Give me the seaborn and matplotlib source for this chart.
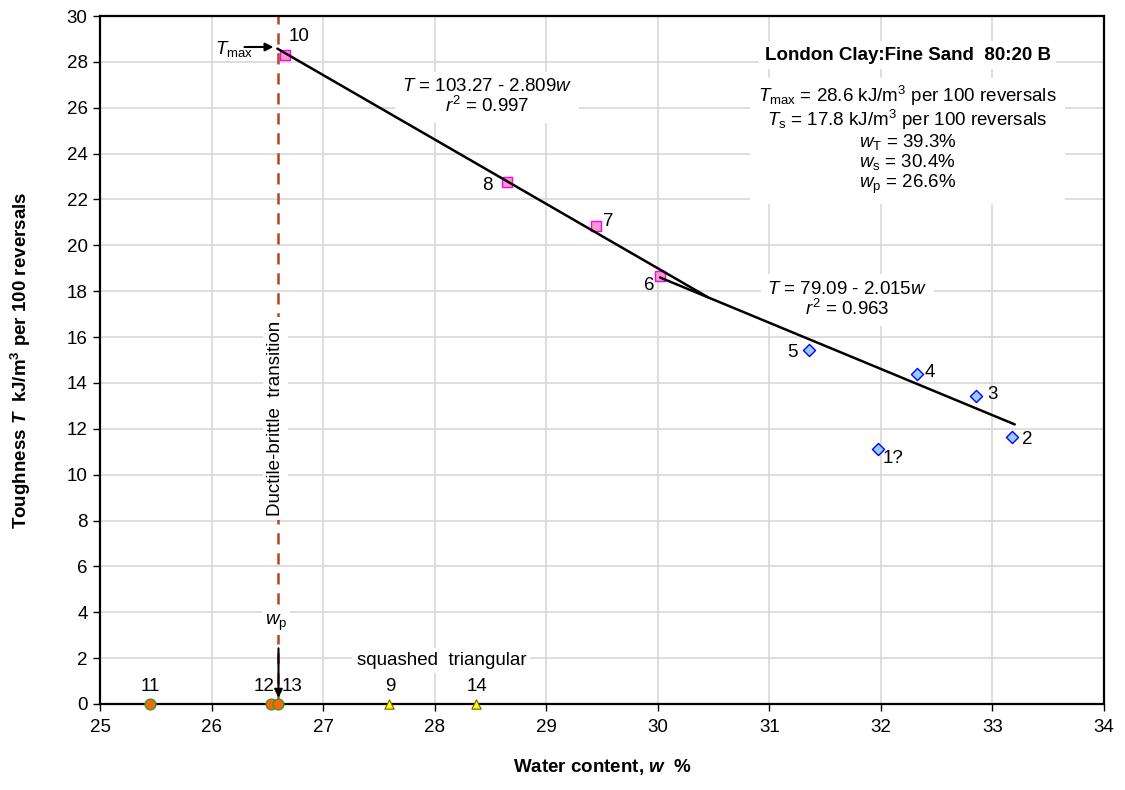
import matplotlib
matplotlib.use("Agg")
import matplotlib.pyplot as plt
import seaborn as sns
import pandas as pd
import numpy as np

# ---------------- data ----------------
sq_labels = ["10", "8", "7", "6"]
sq_w = [26.66, 28.65, 29.45, 30.02]
sq_T = [28.3, 22.76, 20.85, 18.67]

dia_labels = ["5", "4", "3", "2", "1?"]
dia_w = [31.36, 32.32, 32.85, 33.18, 31.97]
dia_T = [15.44, 14.39, 13.43, 11.64, 11.12]

circ_labels = ["11", "12", "13"]
circ_w = [25.45, 26.53, 26.60]
circ_T = [0.0, 0.0, 0.0]

tri_labels = ["9", "14"]
tri_w = [27.59, 28.37]
tri_T = [0.0, 0.0]

fit1_a, fit1_b = 103.27, -2.809
fit1_range = [26.59, 30.45]
fit2_a, fit2_b = 79.09, -2.015
fit2_range = [30.02, 33.2]

w_p = 26.6
T_max = 28.65

x_ticks = list(range(25, 35))
y_ticks = list(range(0, 31, 2))

FS = 13.5

# ---------------- style ----------------
sns.set_theme(style="white")
plt.rcParams["font.family"] = ["Liberation Sans", "DejaVu Sans"]
plt.rcParams["mathtext.fontset"] = "custom"
plt.rcParams["mathtext.rm"] = "Liberation Sans"
plt.rcParams["mathtext.it"] = "Liberation Sans:italic"
plt.rcParams["mathtext.bf"] = "Liberation Sans:bold"
try:
    plt.rcParams["mathtext.bfit"] = "Liberation Sans:italic:bold"
except KeyError:
    pass
for k in ["text.color", "axes.labelcolor", "xtick.color", "ytick.color",
          "xtick.labelcolor", "ytick.labelcolor"]:
    plt.rcParams[k] = "black"

fig = plt.figure(figsize=(11.25, 7.9), dpi=100)
ax = fig.add_axes([0.0889, 0.1089, 0.8924, 0.8708])

ax.set_xlim(25, 34)
ax.set_ylim(0, 30)
ax.set_xticks(x_ticks)
ax.set_yticks(y_ticks)
ax.grid(True, color="#d4d4d4", linewidth=1.1)
ax.set_axisbelow(True)
for s in ax.spines.values():
    s.set_color("black")
    s.set_linewidth(1.6)
ax.tick_params(axis="both", direction="out", length=5, width=1, color="black",
               labelcolor="black", labelsize=FS, pad=4, bottom=True, left=True)
ax.tick_params(axis="x", pad=6)

# dashed ductile-brittle line
ax.axvline(w_p, color="#b5451b", linewidth=1.8, linestyle=(0, (4.5, 3.5)), zorder=2)

# fitted lines
for a, b, rng in [(fit1_a, fit1_b, fit1_range), (fit2_a, fit2_b, fit2_range)]:
    xs = np.array(rng)
    df_l = pd.DataFrame({"w": xs, "T": a + b * xs})
    sns.lineplot(data=df_l, x="w", y="T", color="black", linewidth=1.8, ax=ax, zorder=4)

# markers
sns.scatterplot(x=sq_w, y=sq_T, marker="s", s=55, color="#ff99cc", edgecolor="#ff00ff",
                linewidth=1.0, ax=ax, zorder=3.5)
sns.scatterplot(x=dia_w, y=dia_T, marker="D", s=38, color="#99ccff", edgecolor="#0000ff",
                linewidth=1.0, ax=ax, zorder=3.5)
sns.scatterplot(x=circ_w, y=circ_T, marker="o", s=60, color="#ff6600", edgecolor="#339933",
                linewidth=1.0, ax=ax, zorder=5, clip_on=False)
sns.scatterplot(x=tri_w, y=tri_T, marker="^", s=45, color="#ffff00", edgecolor="#666600",
                linewidth=0.8, ax=ax, zorder=5, clip_on=False)

# point labels (offset in pixels)
def lab(txt, x, y, dx, dy, ha="center"):
    ax.annotate(txt, (x, y), xytext=(dx * 0.72, dy * 0.72), textcoords="offset points",
                ha=ha, va="center", fontsize=FS, color="black", zorder=6,
                annotation_clip=False)

sq_off = [(14, 19), (-20, -3), (12, 4), (-11, -10)]
for t, x, y, o in zip(sq_labels, sq_w, sq_T, sq_off):
    lab(t, x, y, *o)
dia_off = [(-17, -3), (13, 1), (17, 2), (15, -2), (16, -10)]
for t, x, y, o in zip(dia_labels, dia_w, dia_T, dia_off):
    lab(t, x, y, *o)
circ_off = [(0, 17), (-7, 17), (14, 17)]
for t, x, y, o in zip(circ_labels, circ_w, circ_T, circ_off):
    lab(t, x, y, *o)
for t, x, y in zip(tri_labels, tri_w, tri_T):
    lab(t, x, y, 1, 17)

# equations (white boxes behind the lines, above the grid)
ax.text(28.47, 26.45, "$T$ = 103.27 - 2.809$w$\n$r^2$ = 0.997", ha="center", va="center",
        fontsize=FS, linespacing=1.05, bbox=dict(facecolor="white", edgecolor="none", pad=5),
        zorder=3)
ax.text(31.7, 17.6, "$T$ = 79.09 - 2.015$w$\n$r^2$ = 0.963", ha="center", va="center",
        fontsize=FS, linespacing=1.05, bbox=dict(facecolor="white", edgecolor="none", pad=5),
        zorder=3)

# info box
ax.text(32.24, 28.3, "London Clay:Fine Sand  80:20 B", ha="center", va="center",
        fontsize=FS, fontweight="bold", bbox=dict(facecolor="white", edgecolor="none", pad=4),
        zorder=5)
info = ("$T_{\\rm max}$ = 28.6 kJ/m$^3$ per 100 reversals\n"
        "$T_{\\rm s}$ = 17.8 kJ/m$^3$ per 100 reversals\n"
        "$w_{\\rm T}$ = 39.3%\n"
        "$w_{\\rm s}$ = 30.4%\n"
        "$w_{\\rm p}$ = 26.6%")
ax.text(32.24, 24.6, info, ha="center", va="center", fontsize=FS, linespacing=1.0,
        bbox=dict(facecolor="white", edgecolor="none", pad=6), zorder=5)

# Tmax arrow
ax.annotate("", xy=(w_p - 0.02, T_max), xytext=(26.27, T_max),
            arrowprops=dict(arrowstyle="-|>", color="black", lw=1.5, mutation_scale=12),
            zorder=6)
ax.text(26.2, 28.55, "$T_{\\rm max}$", ha="center", va="center", fontsize=FS, zorder=6)

# wp arrow
ax.annotate("", xy=(w_p, 0.15), xytext=(w_p, 2.55),
            arrowprops=dict(arrowstyle="-|>", color="black", lw=1.5, mutation_scale=12),
            zorder=6)
ax.text(w_p - 0.02, 3.55, "$w_{\\rm p}$", ha="center", va="center", fontsize=FS,
        bbox=dict(facecolor="white", edgecolor="none", pad=2), zorder=6)

# ductile-brittle text
ax.text(w_p - 0.03, 12.45, "Ductile-brittle  transition", rotation=90, ha="center",
        va="center", fontsize=FS, bbox=dict(facecolor="white", edgecolor="none", pad=3),
        zorder=5)

ax.text(28.06, 1.9, "squashed  triangular", ha="center", va="center", fontsize=FS,
        bbox=dict(facecolor="white", edgecolor="none", pad=3), zorder=5)

# axis labels
ax.set_xlabel("Water content, $\\mathbfit{w}$  %", fontsize=FS, fontweight="bold", labelpad=15)
ax.set_ylabel("Toughness $\\mathbfit{T}$  kJ/m$^\\mathbf{3}$ per 100 reversals", fontsize=FS,
              fontweight="bold", labelpad=24)

fig.savefig("out.png", dpi=100)
